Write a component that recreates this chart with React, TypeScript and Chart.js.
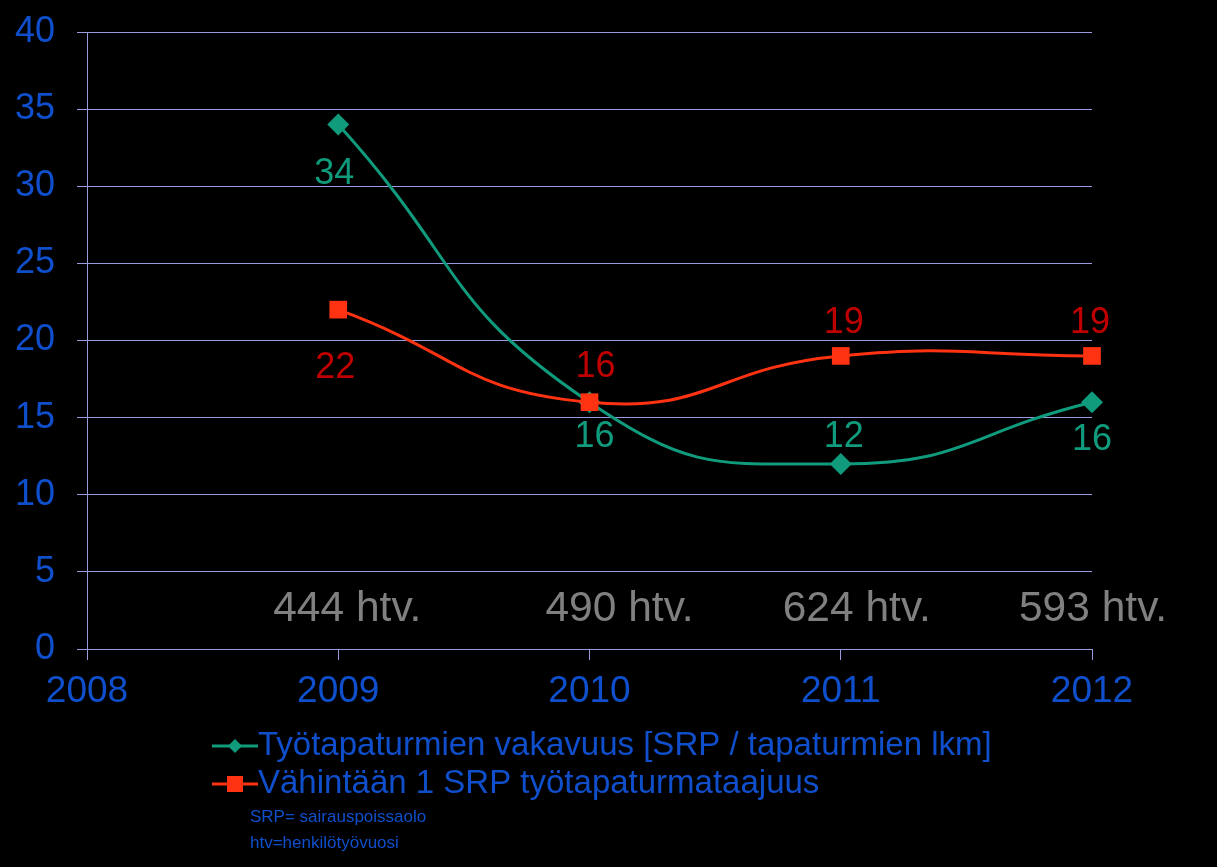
import React, { useEffect, useRef } from 'react';
import { Chart, registerables } from 'chart.js';
Chart.register(...registerables);

const years = [2009, 2010, 2011, 2012];
const severity = [34, 16, 12, 16];
const frequency = [22, 16, 19, 19];
const htvLabels = ['444 htv.', '490 htv.', '624 htv.', '593 htv.'];
const seriesNames = ['Työtapaturmien vakavuus [SRP / tapaturmien lkm]', 'Vähintään 1 SRP työtapaturmataajuus'];
const notes = ['SRP= sairauspoissaolo', 'htv=henkilötyövuosi'];

// styling: label offsets in pixels
const labelOffsets = [
  [[-4, 50], [5, 35], [3, -27], [0, 38]],
  [[-3, 58], [6, -35], [3, -33], [-2, -33]],
];
const htvOffsets = [9, 30, 16, 1];

const FONT = '"Liberation Sans", Arial, sans-serif';
const BLUE = '#0F4FCC';
const GRID = '#9A9ADF';
const TEAL = '#109B7D';
const RED = '#FF3311';
const labelColors = [TEAL, '#C00000'];

const overlay = {
  id: 'overlay',
  afterDatasetsDraw(chart: any) {
    const ctx = chart.ctx;
    const xs = chart.scales.x;
    const ys = chart.scales.y;
    ctx.save();
    ctx.textAlign = 'center';
    ctx.textBaseline = 'middle';
    ctx.font = `42.5px ${FONT}`;
    ctx.fillStyle = '#808080';
    years.forEach((yr, i) => {
      ctx.fillText(htvLabels[i], xs.getPixelForValue(yr) + htvOffsets[i], ys.getPixelForValue(0) - 40);
    });
    ctx.font = `36px ${FONT}`;
    chart.data.datasets.forEach((ds: any, di: number) => {
      const meta = chart.getDatasetMeta(di);
      ctx.fillStyle = labelColors[di];
      meta.data.forEach((pt: any, i: number) => {
        const [dx, dy] = labelOffsets[di][i];
        ctx.fillText(String(ds.data[i].y), pt.x + dx, pt.y + dy);
      });
    });
    ctx.restore();
  },
  afterDraw(chart: any) {
    const ctx = chart.ctx;
    ctx.save();
    const rows = [746, 784];
    chart.data.datasets.forEach((ds: any, di: number) => {
      const y = rows[di];
      ctx.strokeStyle = ds.borderColor;
      ctx.lineWidth = 3;
      ctx.beginPath();
      ctx.moveTo(212, y);
      ctx.lineTo(258, y);
      ctx.stroke();
      ctx.fillStyle = ds.borderColor;
      if (di === 0) {
        ctx.beginPath();
        ctx.moveTo(235, y - 7);
        ctx.lineTo(242, y);
        ctx.lineTo(235, y + 7);
        ctx.lineTo(228, y);
        ctx.closePath();
        ctx.fill();
      } else {
        ctx.fillRect(227, y - 8, 16, 16);
      }
      ctx.fillStyle = BLUE;
      ctx.font = `33px ${FONT}`;
      ctx.textAlign = 'left';
      ctx.textBaseline = 'middle';
      ctx.fillText(seriesNames[di], 258, y);
    });
    ctx.font = `17px ${FONT}`;
    ctx.fillText(notes[0], 250, 817);
    ctx.fillText(notes[1], 250, 843);
    ctx.restore();
  },
};

export default function App() {
  const ref = useRef<HTMLCanvasElement>(null);
  useEffect(() => {
    document.body.style.margin = '0';
    document.body.style.background = '#000';
    const chart = new Chart(ref.current!, {
      type: 'line',
      data: {
        datasets: [
          {
            label: seriesNames[0],
            data: years.map((x, i) => ({ x, y: severity[i] })),
            borderColor: TEAL,
            backgroundColor: TEAL,
            borderWidth: 3,
            pointStyle: 'rectRot',
            pointRadius: 11,
            pointBorderWidth: 0,
            tension: 0.5,
            order: 1,
            clip: false as any,
          },
          {
            label: seriesNames[1],
            data: years.map((x, i) => ({ x, y: frequency[i] })),
            borderColor: RED,
            backgroundColor: RED,
            borderWidth: 3,
            pointStyle: 'rect',
            pointRadius: 12.5,
            pointBorderWidth: 0,
            tension: 0.5,
            order: 0,
            clip: false as any,
          },
        ],
      },
      options: {
        animation: false,
        responsive: true,
        maintainAspectRatio: false,
        layout: { padding: { left: 0, right: 125, top: 32, bottom: 0 } },
        plugins: { legend: { display: false }, tooltip: { enabled: false } },
        scales: {
          x: {
            type: 'linear',
            min: 2008,
            max: 2012,
            ticks: { stepSize: 1, color: BLUE, font: { size: 37, family: FONT }, padding: 10, callback: (v: any) => String(v) },
            grid: { drawOnChartArea: false, drawTicks: true, tickLength: 11, color: GRID, lineWidth: 1 },
            border: { display: true, color: GRID, width: 1 },
            afterFit: (s: any) => { s.height = 218; s.paddingLeft = 0; s.paddingRight = 0; },
          },
          y: {
            min: 0,
            max: 40,
            ticks: { stepSize: 5, color: BLUE, font: { size: 36, family: FONT }, padding: 22 },
            grid: { drawTicks: true, tickLength: 10, color: GRID, lineWidth: 1 },
            border: { display: true, color: GRID, width: 1 },
            afterFit: (s: any) => { s.width = 87; s.paddingTop = 0; s.paddingBottom = 0; },
          },
        },
      } as any,
      plugins: [overlay],
    });
    return () => chart.destroy();
  }, []);
  return (
    <div style={{ position: 'absolute', left: 0, top: 0, width: 1217, height: 867, background: '#000' }}>
      <canvas ref={ref} />
    </div>
  );
}
